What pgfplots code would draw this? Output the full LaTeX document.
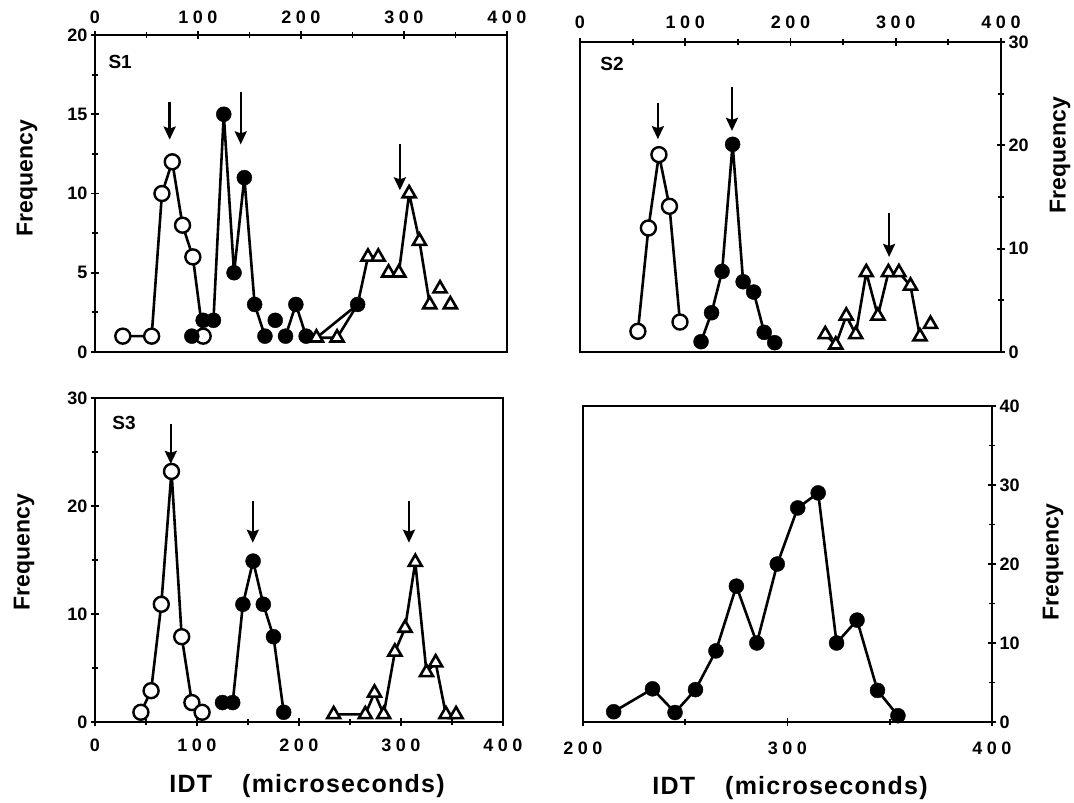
\documentclass[border=0pt]{standalone}
\usepackage{fontspec}
\setmainfont{Liberation Sans}
\usepackage{pgfplots}
\pgfplotsset{compat=1.18}
\usetikzlibrary{arrows.meta}
\newfontfamily\tickxfont[LetterSpace=25]{Liberation Sans Bold}
\newfontfamily\tickyfont{Liberation Sans Bold}
\newfontfamily\labfont[LetterSpace=5]{Liberation Sans Bold}

\pgfplotsset{
  panel/.style={scale only axis, axis line style={line width=2.6pt},
    tick style={line width=1.8pt,black}, major tick length=8pt, minor tick length=6pt,
    tick align=center, xmin=0, xmax=400, unbounded coords=jump, clip=false,
    xticklabel style={font=\tickxfont\fontsize{18}{18}\selectfont},
    yticklabel style={font=\tickyfont\fontsize{18}{18}\selectfont}},
  lin/.style={line width=2.6pt, black, no markers},
  omark/.style={only marks, mark=*, mark size=7.5pt, mark options={fill=white, draw=black, line width=2.4pt}},
  fmark/.style={only marks, mark=*, mark size=7.5pt, mark options={fill=black, draw=black}},
  tmark/.style={only marks, mark=triangle*, mark size=7.5pt, mark options={fill=white, draw=black, line width=2.6pt}},
}
\tikzset{arr/.style={line width=2.4pt, -{Stealth[length=13pt,width=12pt,inset=2pt]}},
  plab/.style={font=\tickyfont\fontsize{19}{19}\selectfont},
  freq/.style={rotate=90, font=\tickyfont\fontsize{23}{23}\selectfont},
  idt/.style={anchor=base, font=\labfont\fontsize{25}{25}\selectfont}}

\begin{document}
\begin{tikzpicture}
\useasboundingbox (0pt,0pt) rectangle (1074pt,-803pt);

% ---------------- S1 ----------------
\begin{axis}[panel, at={(95pt,-352pt)}, anchor=south west, width=412pt, height=317pt,
  ymin=0, ymax=20,
  xtick pos=right, xticklabel pos=right, ytick pos=left, yticklabel pos=left,
  xtick={0,100,200,300,400}, xticklabels={0,100,200,300,400}, minor xtick={50,150,250,350},
  ytick={0,5,10,15,20}, yticklabels={0,5,10,15,20}, minor ytick={2.5,7.5,12.5,17.5},
  xticklabel style={yshift=4pt}]
\addplot[lin] coordinates {(27,1) (55,1) (65,10) (75,12) (85,8) (95,6) (105,1) (105,nan)
  (105,2) (115,2) (125,15) (135,5) (145,11) (155,3) (165,1) (165,nan)
  (185,1) (195,3) (205,1) (215,0.9) (255,3) (265,6) (275,6) (275,nan)
  (215,0.9) (235,0.9) (255,3) (255,nan)
  (285,5) (295,5) (305,10) (315,7) (325,3)};
\addplot[omark] coordinates {(27,1) (55,1) (65,10) (75,12) (85,8) (95,6) (105,1)};
\addplot[fmark] coordinates {(94,1) (105,2) (115,2) (125,15) (135,5) (145,11) (155,3) (165,1) (175,2) (185,1) (195,3) (205,1) (255,3)};
\addplot[tmark] coordinates {(215,0.9) (235,0.9) (265,6) (275,6) (285,5) (295,5) (305,10) (315,7) (325,3) (335,4) (345,3)};
\draw[arr] (axis cs:72.5,15.8) -- (axis cs:72.5,13.4);
\draw[arr] (axis cs:141.5,16.4) -- (axis cs:141.5,13.1);
\draw[arr] (axis cs:296,13.1) -- (axis cs:296,10.2);
\node[plab] at (rel axis cs:0.061,0.915) {S1};
\end{axis}

% ---------------- S2 ----------------
\begin{axis}[panel, at={(580pt,-352pt)}, anchor=south west, width=421pt, height=310pt,
  ymin=0, ymax=30,
  xtick pos=right, xticklabel pos=right, ytick pos=right, yticklabel pos=right,
  xtick={0,100,200,300,400}, xticklabels={0,100,200,300,400}, minor xtick={50,150,250,350},
  ytick={0,10,20,30}, yticklabels={0,10,20,30}, minor ytick={5,15,25},
  xticklabel style={yshift=6pt}]
\addplot[lin] coordinates {(55,2) (65,12) (75,19.1) (85,14.1) (95,2.9) (95,nan)
  (115,1) (125,3.8) (135,7.8) (145,20.1) (155,6.8) (165,5.8) (175,1.9) (185,0.9) (185,nan)
  (233,1.7) (243,0.7) (253,3.5) (262,1.7) (272,7.7) (283,3.5) (293,7.7) (303,7.7) (314,6.4) (323,1.5)};
\addplot[omark] coordinates {(55,2) (65,12) (75,19.1) (85,14.1) (95,2.9)};
\addplot[fmark] coordinates {(115,1) (125,3.8) (135,7.8) (145,20.1) (155,6.8) (165,5.8) (175,1.9) (185,0.9)};
\addplot[tmark] coordinates {(233,1.7) (243,0.7) (253,3.5) (262,1.7) (272,7.7) (283,3.5) (293,7.7) (303,7.7) (314,6.4) (323,1.5) (333,2.7)};
\draw[arr] (axis cs:74,24.1) -- (axis cs:74,20.6);
\draw[arr] (axis cs:144.4,25.6) -- (axis cs:144.4,21.4);
\draw[arr] (axis cs:293.7,13.5) -- (axis cs:293.7,9.2);
\node[plab] at (rel axis cs:0.076,0.929) {S2};
\end{axis}

% ---------------- S3 ----------------
\begin{axis}[panel, at={(95pt,-722pt)}, anchor=south west, width=408pt, height=324pt,
  ymin=0, ymax=30,
  xtick pos=left, xticklabel pos=left, ytick pos=left, yticklabel pos=left,
  xtick={0,100,200,300,400}, xticklabels={0,100,200,300,400}, minor xtick={50,150,250,350},
  ytick={0,10,20,30}, yticklabels={0,10,20,30}, minor ytick={5,15,25},
  xticklabel style={yshift=-9pt}]
\addplot[lin] coordinates {(45,0.9) (55,2.9) (65,10.9) (75,23.2) (85,7.9) (95,1.8) (105,0.9) (105,nan)
  (125,1.8) (135,1.8) (145,10.9) (155,14.9) (165,10.9) (175,7.9) (185,0.9) (185,nan)
  (234,0.7) (265,0.7) (274,2.7) (283,0.7) (294,6.5) (304,8.7) (314,14.8) (325,4.6) (334,5.5) (344,0.7)};
\addplot[omark] coordinates {(45,0.9) (55,2.9) (65,10.9) (75,23.2) (85,7.9) (95,1.8) (105,0.9)};
\addplot[fmark] coordinates {(125,1.8) (135,1.8) (145,10.9) (155,14.9) (165,10.9) (175,7.9) (185,0.9)};
\addplot[tmark] coordinates {(234,0.7) (265,0.7) (274,2.7) (283,0.7) (294,6.5) (304,8.7) (314,14.8) (325,4.6) (334,5.5) (344,0.7) (354,0.7)};
\draw[arr] (axis cs:74.3,27.6) -- (axis cs:74.3,23.9);
\draw[arr] (axis cs:154.7,20.5) -- (axis cs:154.7,16.6);
\draw[arr] (axis cs:307.8,20.5) -- (axis cs:307.8,16.6);
\node[plab] at (rel axis cs:0.071,0.923) {S3};
\end{axis}

% ---------------- S4 ----------------
\begin{axis}[panel, at={(583pt,-722pt)}, anchor=south west, width=409pt, height=316pt,
  xmin=200, xmax=400, ymin=0, ymax=40,
  xtick pos=left, xticklabel pos=left, ytick pos=right, yticklabel pos=right,
  xtick={200,300,400}, xticklabels={200,300,400}, minor xtick={250,350},
  ytick={0,10,20,30,40}, yticklabels={0,10,20,30,40}, minor ytick={5,15,25,35},
  xticklabel style={yshift=-12pt}]
\addplot[lin] coordinates {(215,1.3) (234,4.2) (245,1.2) (255,4.1) (265,9) (275,17.2) (285,10) (295,20) (305,27.1) (315,29) (324,10) (334,12.9) (344,4) (354,0.8)};
\addplot[fmark] coordinates {(215,1.3) (234,4.2) (245,1.2) (255,4.1) (265,9) (275,17.2) (285,10) (295,20) (305,27.1) (315,29) (324,10) (334,12.9) (344,4) (354,0.8)};
\end{axis}

% axis titles
\node[freq] at (27pt,-178pt) {Frequency};
\node[freq] at (24pt,-552pt) {Frequency};
\node[freq] at (1060pt,-155pt) {Frequency};
\node[freq] at (1053pt,-562pt) {Frequency};
\node[idt] at (307pt,-792pt) {IDT\hspace{30pt}(microseconds)};
\node[idt] at (790pt,-794pt) {IDT\hspace{30pt}(microseconds)};
\end{tikzpicture}
\end{document}
